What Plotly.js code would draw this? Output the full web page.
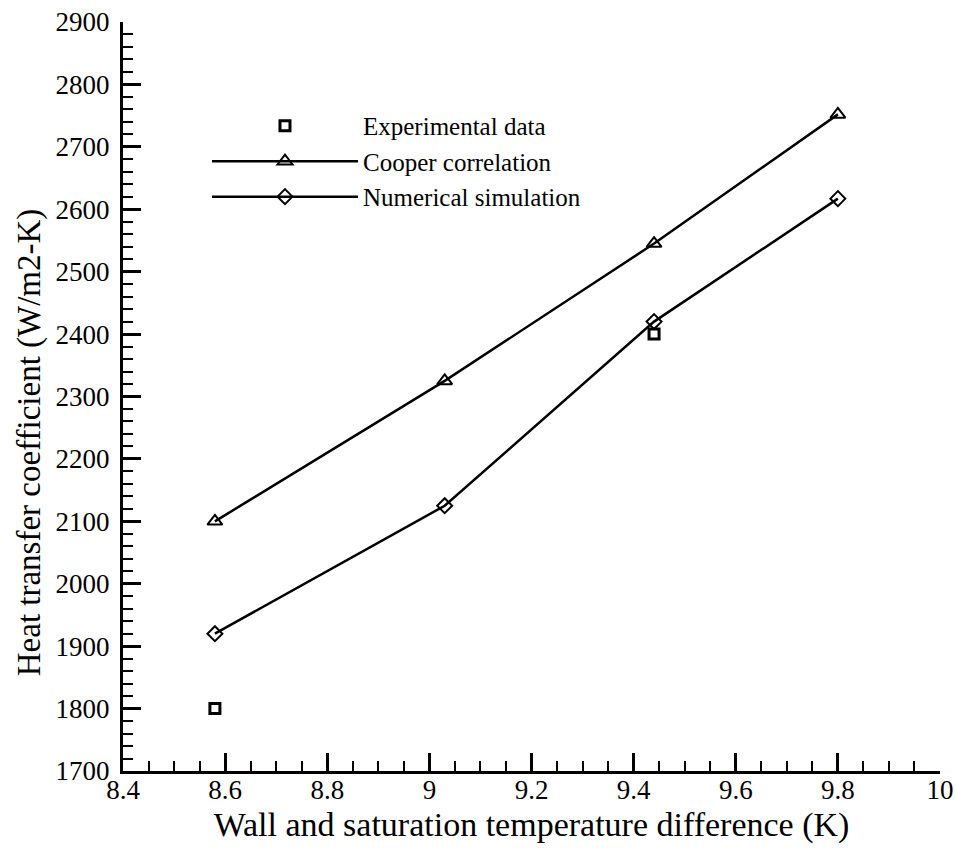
<!DOCTYPE html>
<html>
<head>
<meta charset="utf-8">
<script src="https://cdn.plot.ly/plotly-3.0.1.min.js"></script>
<style>
#chart text { font-family: "Liberation Serif", "Times New Roman", serif !important; }
</style>
</head>
<body style="margin:0;background:#fff">
<div id="chart"></div>
<script>
const seriesNames = ["Experimental data", "Cooper correlation", "Numerical simulation"];
const expX = [8.58, 9.44];
const expY = [1800, 2400];
const cooperX = [8.58, 9.03, 9.44, 9.8];
const cooperY = [2100, 2325, 2545, 2752];
const numX = [8.58, 9.03, 9.44, 9.8];
const numY = [1920, 2125, 2420, 2617];
const xTitle = "Wall and saturation temperature difference (K)";
const yTitle = "Heat transfer coefficient (W/m2-K)";

const SERIF = "Liberation Serif";

const traces = [
  {x: expX, y: expY, name: seriesNames[0], mode: "markers", type: "scatter",
   marker: {symbol: "square-open", size: 10, color: "#000", line: {width: 3, color: "#000"}}},
  {x: cooperX, y: cooperY, name: seriesNames[1], mode: "lines+markers", type: "scatter",
   line: {color: "#000", width: 2.5},
   marker: {symbol: "triangle-up-open", size: 13, color: "#000", line: {width: 2, color: "#000"}}},
  {x: numX, y: numY, name: seriesNames[2], mode: "lines+markers", type: "scatter",
   line: {color: "#000", width: 2.5},
   marker: {symbol: "diamond-open", size: 11.5, color: "#000", line: {width: 2, color: "#000"}}}
];

const layout = {
  width: 955, height: 849,
  margin: {l: 123, r: 15, t: 22, b: 78, pad: 0},
  paper_bgcolor: "#fff", plot_bgcolor: "#fff",
  font: {family: SERIF, color: "#000", size: 27},
  showlegend: true,
  legend: {x: 0.1028, y: 0.892, xanchor: "left", yanchor: "top", bgcolor: "rgba(0,0,0,0)",
           font: {family: SERIF, size: 25, color: "#000"}, itemwidth: 146},
  xaxis: {
    range: [8.4, 10], tick0: 8.4, dtick: 0.2, showgrid: false, zeroline: false,
    showline: true, linecolor: "#000", linewidth: 3,
    ticks: "inside", ticklen: 18, tickwidth: 3, tickcolor: "#000",
    ticklabelstandoff: -7,
    tickfont: {family: SERIF, size: 27, color: "#000"},
    minor: {dtick: 0.05, ticks: "inside", ticklen: 10, tickwidth: 1.5, tickcolor: "#000", showgrid: false},
    title: {text: xTitle, font: {family: SERIF, size: 34, color: "#000"}, standoff: 8}
  },
  yaxis: {
    range: [1700, 2900], tick0: 1700, dtick: 100, showgrid: false, zeroline: false,
    showline: true, linecolor: "#000", linewidth: 3,
    ticks: "inside", ticklen: 18, tickwidth: 3, tickcolor: "#000",
    ticklabelstandoff: 5,
    tickfont: {family: SERIF, size: 27, color: "#000"},
    minor: {dtick: 20, ticks: "inside", ticklen: 10, tickwidth: 1.5, tickcolor: "#000", showgrid: false}
  },
  annotations: [
    {text: yTitle, xref: "paper", yref: "paper", x: -0.115, y: 0.439, xanchor: "center", yanchor: "middle",
     textangle: -90, showarrow: false, font: {family: SERIF, size: 33, color: "#000"}}
  ]
};

Plotly.newPlot("chart", traces, layout, {displayModeBar: false});
</script>
</body>
</html>
